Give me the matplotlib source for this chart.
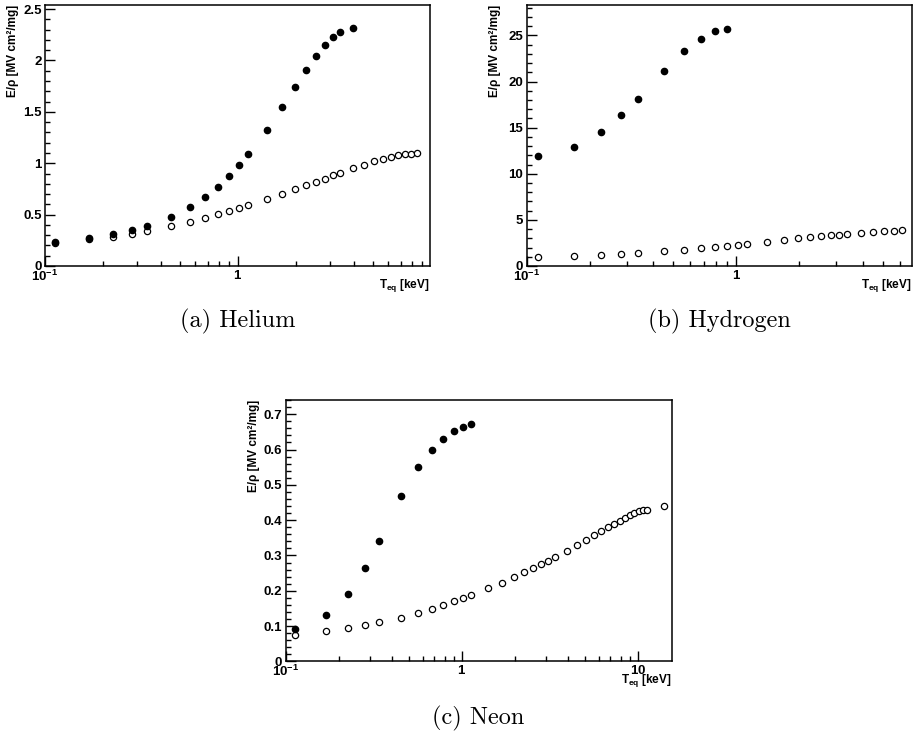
import matplotlib
matplotlib.use('Agg')
import matplotlib.pyplot as plt
from matplotlib.ticker import (FixedLocator, FixedFormatter, MultipleLocator,
                               NullFormatter, LogLocator, FormatStrFormatter)

# temperature grid T_eq [keV] shared by all three gases
T_eq = [0.113, 0.169, 0.225, 0.281, 0.338, 0.450, 0.563, 0.676, 0.788, 0.901,
        1.013, 1.126, 1.407, 1.689, 1.970, 2.252, 2.533, 2.815, 3.096, 3.378,
        3.941, 4.504, 5.067, 5.630, 6.193, 6.756, 7.319, 7.882, 8.445, 9.008,
        9.571, 10.134, 10.697, 11.260, 14.075]

# ******Helium******
he_full = [0.234, 0.273, 0.308, 0.351, 0.390, 0.477, 0.571, 0.669, 0.773, 0.877,
           0.984, 1.088, 1.325, 1.546, 1.740, 1.909, 2.046, 2.150, 2.224, 2.276,
           2.315]
he_open = [0.228, 0.260, 0.286, 0.315, 0.344, 0.390, 0.432, 0.468, 0.503, 0.536,
           0.565, 0.597, 0.649, 0.701, 0.747, 0.786, 0.818, 0.851, 0.883, 0.906,
           0.951, 0.987, 1.020, 1.046, 1.065, 1.081, 1.091, 1.094, 1.097]

# ******Hydrogen******
h_full = [11.94, 12.88, 14.58, 16.34, 18.08, 21.11, 23.27, 24.64, 25.44, 25.73]
h_open = [0.97, 1.08, 1.19, 1.30, 1.41, 1.59, 1.77, 1.91, 2.02, 2.16,
          2.27, 2.38, 2.63, 2.85, 2.99, 3.10, 3.21, 3.32, 3.39, 3.46,
          3.61, 3.72, 3.79, 3.82, 3.86]

# ******Neon******
ne_full = [0.093, 0.131, 0.190, 0.265, 0.340, 0.468, 0.551, 0.600, 0.631, 0.652,
           0.665, 0.672]
ne_open = [0.074, 0.085, 0.095, 0.103, 0.111, 0.124, 0.137, 0.149, 0.161, 0.170,
           0.180, 0.188, 0.207, 0.223, 0.238, 0.252, 0.264, 0.276, 0.285, 0.296,
           0.314, 0.330, 0.344, 0.358, 0.369, 0.380, 0.389, 0.398, 0.407, 0.414,
           0.420, 0.425, 0.428, 0.429, 0.439]

x_ticks = [0.1, 1, 10]
x_tick_labels = [r'$10^{-1}$', r'$1$', r'$10$']

plt.rcParams['font.family'] = 'Liberation Sans'
plt.rcParams['font.weight'] = 'bold'
plt.rcParams['mathtext.fontset'] = 'custom'
plt.rcParams['mathtext.rm'] = 'Liberation Sans:bold'
plt.rcParams['mathtext.it'] = 'Liberation Sans:bold'
plt.rcParams['mathtext.bf'] = 'Liberation Sans:bold'

fig = plt.figure(figsize=(9.15, 7.35), dpi=100)


def draw_panel(rect, y_full, y_open, xmax, ymax, major, minor, fmt):
    ax = fig.add_axes(rect)
    ax.plot(T_eq[:len(y_open)], y_open, 'o', ms=4.5, mfc='white', mec='black',
            mew=0.9, ls='none', zorder=3)
    ax.plot(T_eq[:len(y_full)], y_full, 'o', ms=4.5, color='black', ls='none',
            zorder=4)
    ax.set_xscale('log')
    ax.set_xlim(0.1, xmax)
    ax.set_ylim(0, ymax)
    ax.xaxis.set_major_locator(FixedLocator(x_ticks))
    ax.xaxis.set_major_formatter(FixedFormatter(x_tick_labels))
    ax.xaxis.set_minor_locator(LogLocator(base=10, subs=range(2, 10)))
    ax.xaxis.set_minor_formatter(NullFormatter())
    ax.yaxis.set_major_locator(MultipleLocator(major))
    ax.yaxis.set_minor_locator(MultipleLocator(minor))
    ax.yaxis.set_major_formatter(FormatStrFormatter(fmt))
    ax.tick_params(which='both', direction='in', top=False, right=False,
                   width=1.0, labelsize=9.5)
    ax.tick_params(which='major', length=7)
    ax.tick_params(which='minor', length=3.5)
    ax.tick_params(axis='x', pad=2)
    ax.tick_params(axis='y', pad=2.5)
    for s in ax.spines.values():
        s.set_linewidth(1.1)
    ax.annotate('E/ρ [MV cm²/mg]', xy=(0, 1), xycoords='axes fraction',
                xytext=(-23, 0), textcoords='offset points', rotation=90,
                ha='center', va='top', fontsize=8.5, fontweight='bold')
    ax.annotate(r'T$_{eq}$ [keV]', xy=(1, 0), xycoords='axes fraction',
                xytext=(0, -14), textcoords='offset points',
                ha='right', va='center', fontsize=8.5, fontweight='bold')
    return ax


draw_panel([0.0492, 0.6381, 0.4208, 0.3551], he_full, he_open,
           9.9, 2.54, 0.5, 0.1, '%g')
draw_panel([0.5756, 0.6381, 0.4208, 0.3551], h_full, h_open,
           6.86, 28.3, 5, 1, '%g')
draw_panel([0.3122, 0.1001, 0.4219, 0.3556], ne_full, ne_open,
           15.6, 0.74, 0.1, 0.02, '%g')

fig.text(0.2596, 0.562, '(a) Helium', family='cmr10', fontsize=17.5,
         fontweight='normal', ha='center', va='center')
fig.text(0.7860, 0.562, '(b) Hydrogen', family='cmr10', fontsize=17.5,
         fontweight='normal', ha='center', va='center')
fig.text(0.5231, 0.022, '(c) Neon', family='cmr10', fontsize=17.5,
         fontweight='normal', ha='center', va='center')

fig.savefig('out.png', dpi=100)
